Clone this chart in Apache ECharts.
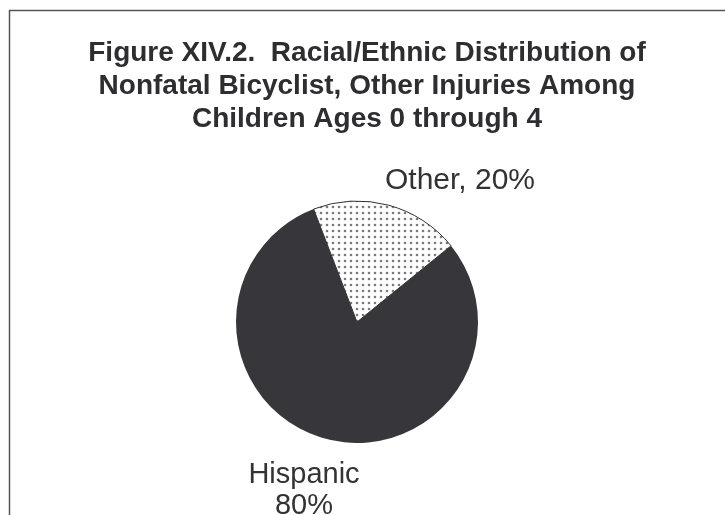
<!DOCTYPE html>
<html>
<head>
<meta charset="utf-8">
<script src="https://cdn.jsdelivr.net/npm/echarts@6/dist/echarts.min.js"></script>
<style>
html,body{margin:0;padding:0;background:#fff;}
#main{width:725px;height:515px;}
</style>
</head>
<body>
<div id="main"></div>
<script>
var titleLines = ['Figure XIV.2.  Racial/Ethnic Distribution of', 'Nonfatal Bicyclist, Other Injuries Among', 'Children Ages 0 through 4'];
var categories = ['Other', 'Hispanic'];
var values = [20, 80];
var labelTexts = ['Other, 20%', 'Hispanic\n80%'];

// dotted pattern tile
var tile = document.createElement('canvas');
tile.width = 6; tile.height = 6;
var tc = tile.getContext('2d');
tc.fillStyle = '#ffffff';
tc.fillRect(0, 0, 6, 6);
tc.fillStyle = '#7a7a7a';
tc.beginPath();
tc.arc(3, 3, 1.3, 0, Math.PI * 2);
tc.fill();

var labelPos = [[460, 181], [304, 490]];
var labelSizes = [30, 29];

var chart = echarts.init(document.getElementById('main'), null, {renderer: 'canvas'});
chart.setOption({
  backgroundColor: '#ffffff',
  animation: false,
  title: {
    text: titleLines.join('\n'),
    left: 362,
    top: 32,
    textAlign: 'center',
    textStyle: {
      fontFamily: 'Liberation Sans, Arial, sans-serif',
      fontWeight: 'bold',
      fontSize: 28,
      lineHeight: 33,
      color: '#2e2e30'
    }
  },
  graphic: [{
    type: 'rect',
    shape: {x: 9.5, y: 10.5, width: 900, height: 700},
    style: {fill: 'none', stroke: '#555', lineWidth: 1.5},
    silent: true
  }],
  series: [{
    type: 'pie',
    center: [357, 322],
    radius: 121,
    startAngle: 111,
    clockwise: true,
    data: categories.map(function (c, i) {
      return {
        name: c,
        value: values[i],
        itemStyle: i === 0
          ? {color: {image: tile, repeat: 'repeat'}, borderColor: '#333', borderWidth: 1}
          : {color: '#37363b', borderWidth: 0},
        label: {formatter: labelTexts[i], fontSize: labelSizes[i], lineHeight: 31}
      };
    }),
    label: {
      show: true,
      position: 'outside',
      fontFamily: 'Liberation Sans, Arial, sans-serif',
      fontSize: 28,
      lineHeight: 31,
      color: '#333',
      align: 'center'
    },
    labelLine: {show: false},
    labelLayout: function (params) {
      var p = labelPos[params.dataIndex];
      return {x: p[0], y: p[1], align: 'center', verticalAlign: 'middle'};
    },
    emphasis: {disabled: true}
  }]
});
</script>
</body>
</html>
